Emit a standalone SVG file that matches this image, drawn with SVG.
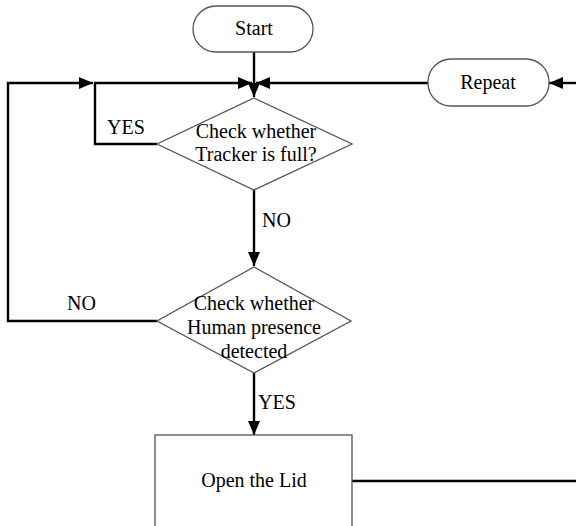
<svg xmlns="http://www.w3.org/2000/svg" width="576" height="526" viewBox="0 0 576 526">
<defs>
<marker id="ah" markerUnits="userSpaceOnUse" markerWidth="14" markerHeight="12" refX="14" refY="6" orient="auto">
<path d="M0,0 L14,6 L0,12 z" fill="#000"/>
</marker>
<style>
.node{fill:#fff;stroke:#555;stroke-width:1.3}
.t{font-family:"Liberation Serif","Times New Roman",serif;font-size:20px;fill:#000}
.m{text-anchor:middle}
.c{fill:none;stroke:#000;stroke-width:2.4}
</style>
</defs>
<rect width="576" height="526" fill="#fff"/>
<g id="connectors">
<path class="c" d="M254,52 V97" marker-end="url(#ah)"/>
<path class="c" d="M157,144 H95 V83 H252" marker-end="url(#ah)"/>
<path class="c" d="M157,321 H8 V83 H93" marker-end="url(#ah)"/>
<path class="c" d="M428,83 H256" marker-end="url(#ah)"/>
<path class="c" d="M576,83 H549" marker-end="url(#ah)"/>
<path class="c" d="M254,190 V266" marker-end="url(#ah)"/>
<path class="c" d="M254,373 V435" marker-end="url(#ah)"/>
<path class="c" d="M352,481 H576"/>
<text class="t" x="107" y="134">YES</text>
<text class="t" x="262" y="227">NO</text>
<text class="t" x="67" y="310">NO</text>
<text class="t" x="258" y="409">YES</text>
</g>
<g id="start">
<rect class="node" x="193" y="6" width="120" height="46" rx="23"/>
<text class="t m" x="254" y="35">Start</text>
</g>
<g id="repeat">
<rect class="node" x="428" y="59" width="121" height="47" rx="23"/>
<text class="t m" x="488" y="89">Repeat</text>
</g>
<g id="check-tracker">
<polygon class="node" points="254,98 352,144 254,190 157,144"/>
<text class="t m" x="256" y="138">Check whether</text>
<text class="t m" x="256" y="161">Tracker is full?</text>
</g>
<g id="check-human">
<polygon class="node" points="254,267 351,321 254,373 157,321"/>
<text class="t m" x="254" y="310">Check whether</text>
<text class="t m" x="254" y="334">Human presence</text>
<text class="t m" x="254" y="358">detected</text>
</g>
<g id="open-lid">
<rect class="node" x="155" y="435" width="197" height="100"/>
<text class="t m" x="254" y="487">Open the Lid</text>
</g>
</svg>
